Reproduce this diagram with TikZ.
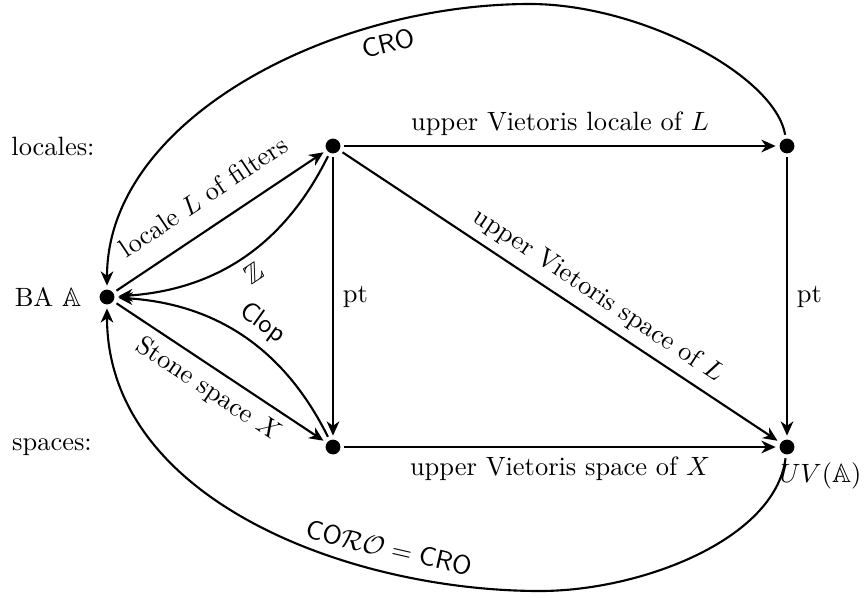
\documentclass[tikz,border=0pt]{standalone}
\usepackage{amssymb}
\usetikzlibrary{arrows.meta}
\begin{document}
\begin{tikzpicture}[x=0.378pt,y=0.378pt,
  dot/.style={circle,fill=black,inner sep=0pt,minimum size=5.6pt,outer sep=1.5pt},
  arr/.style={thick,-{Stealth[length=5.4pt,width=4.8pt,inset=1.7pt]}},
  plain/.style={inner sep=0pt}]
\useasboundingbox (0,0) rectangle (866,597);
% objects
\node[dot] (BA)  at (107,300) {};
\node[dot] (L)   at (333,451) {};
\node[dot] (X)   at (333,150) {};
\node[dot] (UVL) at (787,451) {};
\node[dot] (UVX) at (787,150) {};
% side texts
\node (loc) at (53,451) {locales:};
\node (spc) at (52,150) {spaces:};
\node (balab) at (48,300) {BA $\mathbb{A}$};
\node[plain,anchor=north west] (uvlab) at (779,135) {$UV(\mathbb{A})$};
% straight arrows
\draw[arr] (BA) -- node[above=4pt,sloped] (lf) {locale $L$ of filters} (L);
\draw[arr] (BA) -- node[below,sloped] (ss) {Stone space $X$} (X);
\draw[arr] (L) -- node[above] (uvll) {upper Vietoris locale of $L$} (UVL);
\draw[arr] (X) -- node[below] (uvsx) {upper Vietoris space of $X$} (UVX);
\draw[arr] (L) -- node[right] (pt1) {pt} (X);
\draw[arr] (UVL) -- node[right] (pt2) {pt} (UVX);
\draw[arr] (L) -- node[above,sloped,pos=0.56] (uvsl) {upper Vietoris space of $L$} (UVX);
% bent arrows
\draw[arr] (L) to[bend left=30] node[below,sloped,pos=0.5] (zl) {$\mathbb{Z}$} (BA);
\draw[arr] (X) to[bend right=30] node[above,sloped,pos=0.47] (cl) {\textsf{Clop}} (BA);
% big curves
\coordinate (top) at (530,593);
\coordinate (bot) at (540,6);
\draw[arr] (UVL) .. controls (775,522) and (640,593) .. (top)
  .. controls (330,593) and (107,477) .. (BA);
\draw[arr] (UVX) .. controls (775,57) and (640,6) .. (bot)
  .. controls (350,6) and (107,97) .. (BA);
\node[rotate=14] (crolab) at (388,554) {$\mathsf{CRO}$};
\node[rotate=-13] (corolab) at (389,49) {$\mathsf{CO}\mathcal{RO}=\mathsf{CRO}$};
\end{tikzpicture}
\end{document}
